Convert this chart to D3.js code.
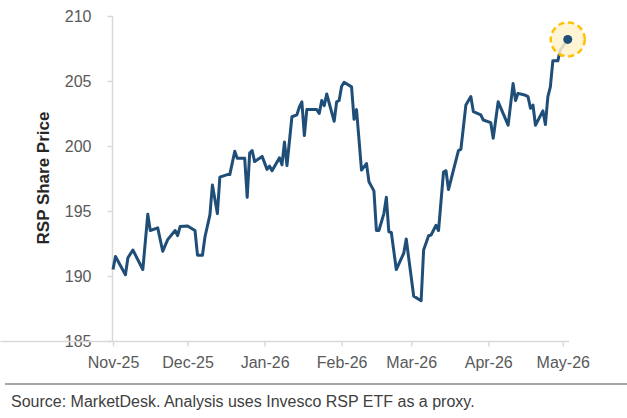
<!DOCTYPE html>
<html>
<head>
<meta charset="utf-8">
<script src="https://cdn.jsdelivr.net/npm/d3@7"></script>
<style>
  body { margin: 0; background: #fff; }
  svg { display: block; font-family: "Liberation Sans", Arial, sans-serif; }
</style>
</head>
<body>
<script>
// RSP share price (date, close)
var dates = [
  "2025-11-01","2025-11-02","2025-11-06","2025-11-07","2025-11-09","2025-11-13","2025-11-15","2025-11-16",
  "2025-11-19","2025-11-21","2025-11-23","2025-11-26","2025-11-27","2025-11-28","2025-12-01","2025-12-04",
  "2025-12-05","2025-12-07","2025-12-08","2025-12-10","2025-12-11","2025-12-13","2025-12-14","2025-12-17",
  "2025-12-18","2025-12-20","2025-12-21","2025-12-24","2025-12-25","2025-12-26","2025-12-27","2025-12-28",
  "2025-12-31","2026-01-02","2026-01-03","2026-01-04","2026-01-07","2026-01-08","2026-01-09","2026-01-10",
  "2026-01-12","2026-01-14","2026-01-15","2026-01-16","2026-01-17","2026-01-18","2026-01-22","2026-01-23",
  "2026-01-24","2026-01-25","2026-01-26","2026-01-29","2026-01-30","2026-01-31","2026-02-01","2026-02-02",
  "2026-02-05","2026-02-06","2026-02-07","2026-02-09","2026-02-11","2026-02-12","2026-02-14","2026-02-15",
  "2026-02-16","2026-02-18","2026-02-19","2026-02-20","2026-02-21","2026-02-23","2026-02-26","2026-02-27",
  "2026-03-02","2026-03-05","2026-03-06","2026-03-08","2026-03-09","2026-03-11","2026-03-12","2026-03-14",
  "2026-03-15","2026-03-16","2026-03-20","2026-03-21","2026-03-23","2026-03-25","2026-03-26","2026-03-29",
  "2026-03-30","2026-04-02","2026-04-03","2026-04-05","2026-04-09","2026-04-11","2026-04-12","2026-04-13",
  "2026-04-16","2026-04-17","2026-04-18","2026-04-19","2026-04-20","2026-04-23","2026-04-24","2026-04-25",
  "2026-04-26","2026-04-27","2026-04-29","2026-04-30","2026-05-01","2026-05-03"
];
var prices = [
  190.5,191.5,190.1,191.4,192.0,190.5,194.75,193.5,
  193.7,191.9,192.8,193.5,193.1,193.8,193.85,193.5,
  191.6,191.6,193.0,194.7,197.0,194.8,197.6,197.8,
  197.8,199.6,199.05,199.05,196.05,199.45,199.65,198.8,
  199.2,198.2,198.45,198.1,199.1,198.55,200.3,198.5,
  202.25,202.4,203.0,203.4,200.8,202.8,202.8,202.5,
  203.5,203.1,204.0,201.9,203.4,203.5,204.6,204.9,
  204.55,202.05,202.8,198.15,198.65,197.25,196.55,193.5,
  193.5,194.8,196.05,193.4,193.35,190.5,191.75,192.85,
  188.45,188.1,192.0,193.1,193.15,193.9,193.5,198.0,
  198.1,196.65,199.65,199.75,203.15,203.8,202.65,202.4,
  202.0,201.8,200.6,203.4,201.6,204.8,203.5,204.05,
  203.9,203.8,202.9,203.15,201.6,202.7,201.65,203.8,
  204.55,206.55,206.55,207.4,207.65,208.2
];
var monthTicks = ["2025-11-01","2025-12-01","2026-01-01","2026-02-01","2026-03-01","2026-04-01","2026-05-01"];
var priceTicks = [185, 190, 195, 200, 205, 210];

var W = 627, H = 418;
var parse = d3.timeParse("%Y-%m-%d");
var data = dates.map(function (d, i) { return { date: parse(d), value: prices[i] }; });

var svg = d3.select("body").append("svg").attr("width", W).attr("height", H);

var x = d3.scaleTime()
  .domain([parse("2025-11-01"), new Date(2026, 4, 3, 12)])
  .range([113, 569]);
var y = d3.scaleLinear().domain([185, 210]).range([341, 16]);

/***** Axes *****/
var yAxis = d3.axisLeft(y).tickValues(priceTicks).tickSize(5).tickPadding(16);
var xAxis = d3.axisBottom(x).tickValues(monthTicks.map(parse))
  .tickFormat(d3.timeFormat("%b-%y")).tickSize(5).tickPadding(10);

var gy = svg.append("g").attr("transform", "translate(112.5,0)").call(yAxis);
var gx = svg.append("g").attr("transform", "translate(0,341.5)").call(xAxis);
[gx, gy].forEach(function (g) {
  g.select(".domain").attr("stroke", "#d9d9d9").attr("stroke-width", 1.5);
  g.selectAll(".tick line").attr("stroke", "#d9d9d9").attr("stroke-width", 1.5);
  g.selectAll(".tick text").attr("fill", "#595959").style("font-size", "16px")
    .style("font-family", "'Liberation Sans', Arial, sans-serif");
});
// y domain has no end caps
gy.select(".domain").attr("d", "M0,16V341");
gx.select(".domain").attr("d", "M0.5,0H569");

svg.append("text")
  .attr("transform", "translate(49,178) rotate(-90)")
  .attr("text-anchor", "middle")
  .attr("fill", "#262626")
  .style("font-size", "17px").style("font-weight", "bold")
  .text("RSP Share Price");

/***** Line *****/
var line = d3.line().x(function (d) { return x(d.date); }).y(function (d) { return y(d.value); });
svg.append("path").datum(data)
  .attr("fill", "none").attr("stroke", "#1f4e79").attr("stroke-width", 3)
  .attr("stroke-linejoin", "round")
  .attr("d", line);

/***** Highlight last point *****/
var last = data[data.length - 1];
svg.append("circle")
  .attr("cx", x(last.date)).attr("cy", y(last.value)).attr("r", 17)
  .attr("fill", "#fff2cc").attr("fill-opacity", 0.85)
  .attr("stroke", "#ffc000").attr("stroke-width", 2.5).attr("stroke-dasharray", "6,4");
svg.append("circle")
  .attr("cx", x(last.date)).attr("cy", y(last.value)).attr("r", 4.5)
  .attr("fill", "#1f4e79");

/***** Source *****/
svg.append("line").attr("x1", 5).attr("x2", W).attr("y1", 384).attr("y2", 384)
  .attr("stroke", "#a6a6a6").attr("stroke-width", 2);
svg.append("text").attr("x", 11).attr("y", 407)
  .attr("fill", "#404040").style("font-size", "16px")
  .text("Source: MarketDesk. Analysis uses Invesco RSP ETF as a proxy.");
</script>
</body>
</html>
